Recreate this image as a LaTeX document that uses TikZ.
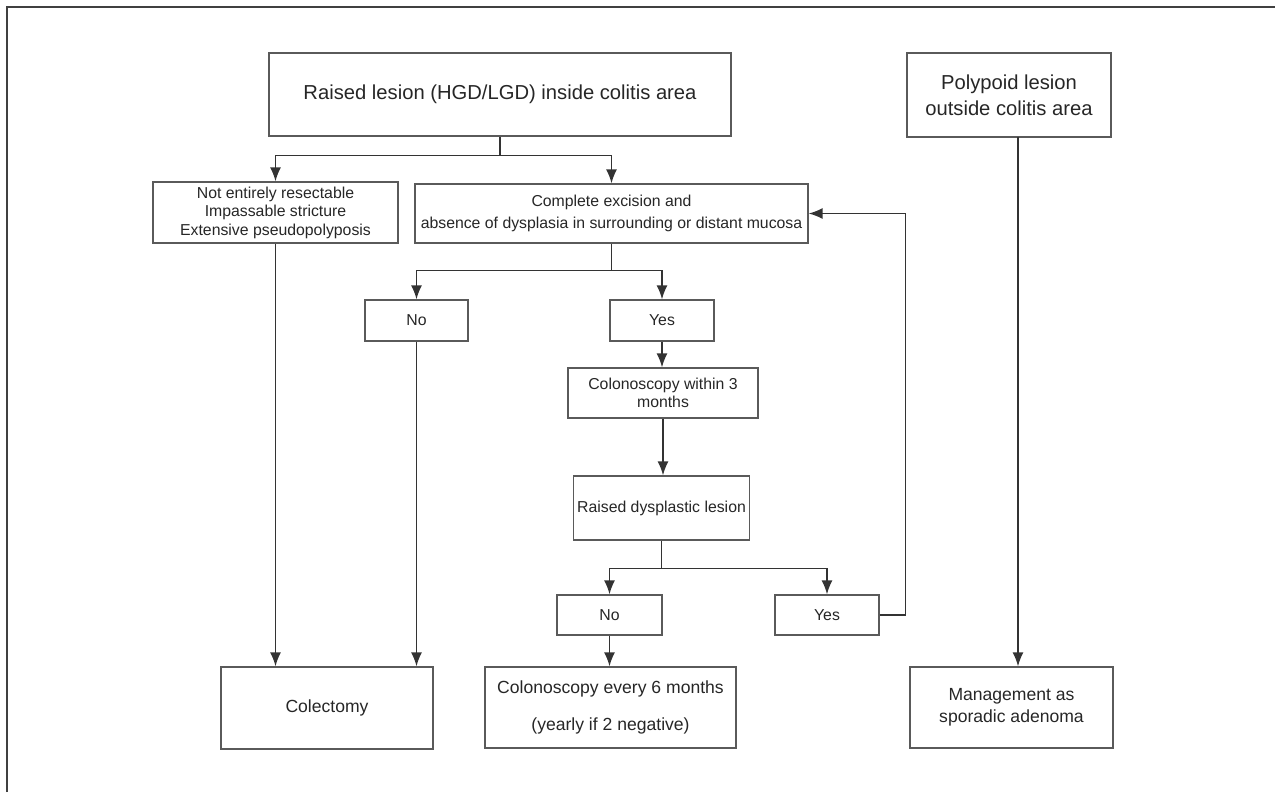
\documentclass[tikz,border=0pt]{standalone}
\usepackage{fontspec}
\setmainfont{Liberation Sans}
\usetikzlibrary{arrows.meta}

\definecolor{linegray}{HTML}{333333}
\definecolor{boxgray}{HTML}{5A5A5A}
\definecolor{textgray}{HTML}{262626}

\begin{document}
\begin{tikzpicture}[x=0.02cm, y=-0.02cm, line width=0.8pt,
    box/.style={draw=boxgray, text=textgray, align=center, inner sep=2pt},
    bigbox/.style={box, font=\fontsize{11.5}{15}\selectfont},
    midbox/.style={box, font=\fontsize{10}{12.5}\selectfont},
    smallbox/.style={box, font=\fontsize{9}{10.5}\selectfont},
    link/.style={draw=linegray, -{Latex[length=2.8mm,width=2.2mm]}}]
\useasboundingbox (0,0) rectangle (1275,792);
% Frame
\draw[line width=1.3pt, black!75] (7,792) -- (7,7) -- (1275,7);
% Nodes
\node[bigbox, minimum width=9.24cm, minimum height=1.66cm] (raised) at (500,94.5) {Raised lesion (HGD/LGD) inside colitis area};
\node[bigbox, minimum width=4.08cm, minimum height=1.68cm] (polyp) at (1009,95) {Polypoid lesion\\outside colitis area};
\node[smallbox, minimum width=4.9cm, minimum height=1.22cm] (notres) at (275.5,212.5) {Not entirely resectable\\Impassable stricture\\Extensive pseudopolyposis};
\node[smallbox, minimum width=7.86cm, minimum height=1.18cm] (excision) at (611.5,213.5) {Complete excision and\\[2pt]absence of dysplasia in surrounding or distant mucosa};
\node[smallbox, minimum width=2.06cm, minimum height=0.82cm] (noone) at (416.5,320.5) {No};
\node[smallbox, minimum width=2.08cm, minimum height=0.82cm] (yesone) at (662,320.5) {Yes};
\node[smallbox, minimum width=3.8cm, minimum height=1.0cm] (within) at (663,393) {Colonoscopy within 3\\months};
\node[smallbox, minimum width=3.46cm, minimum height=1.28cm] (dysplastic) at (661.5,508) {Raised dysplastic lesion};
\node[smallbox, minimum width=2.1cm, minimum height=0.8cm] (notwo) at (609.5,615) {No};
\node[smallbox, minimum width=2.08cm, minimum height=0.8cm] (yestwo) at (827,615) {Yes};
\node[midbox, minimum width=4.24cm, minimum height=1.64cm] (colectomy) at (327,708) {Colectomy};
\node[midbox, minimum width=5.02cm, minimum height=1.62cm] (every) at (610.5,707.5) {Colonoscopy every 6 months\\[9pt](yearly if 2 negative)};
\node[midbox, minimum width=4.06cm, minimum height=1.62cm] (sporadic) at (1011.5,707.5) {Management as\\sporadic adenoma};
\coordinate (polypout) at (1018,137);
% Arrows
\draw[draw=linegray] (raised.south) -- ++(0,19) coordinate (splitone);
\draw[link] (splitone) -| (notres.north);
\draw[link] (splitone) -| (excision.north);
\draw[draw=linegray] (excision.south) -- ++(0,27) coordinate (splittwo);
\draw[link] (splittwo) -| (noone.north);
\draw[link] (splittwo) -| (yesone.north);
\draw[link] (yesone.south) -- (yesone.south |- within.north);
\draw[link] (within.south) -- (within.south |- dysplastic.north);
\draw[draw=linegray] (dysplastic.south) -- ++(0,28) coordinate (splitthree);
\draw[link] (splitthree) -| (notwo.north);
\draw[link] (splitthree) -| (yestwo.north);
\draw[link] (notwo.south) -- (notwo.south |- every.north);
\draw[link] (yestwo.east) -- ++(26,0) |- (excision.east);
\draw[link] (notres.south) -- (notres.south |- colectomy.north);
\draw[link] (noone.south) -- (noone.south |- colectomy.north);
\draw[link] (polypout) -- (polypout |- sporadic.north);
\end{tikzpicture}
\end{document}
